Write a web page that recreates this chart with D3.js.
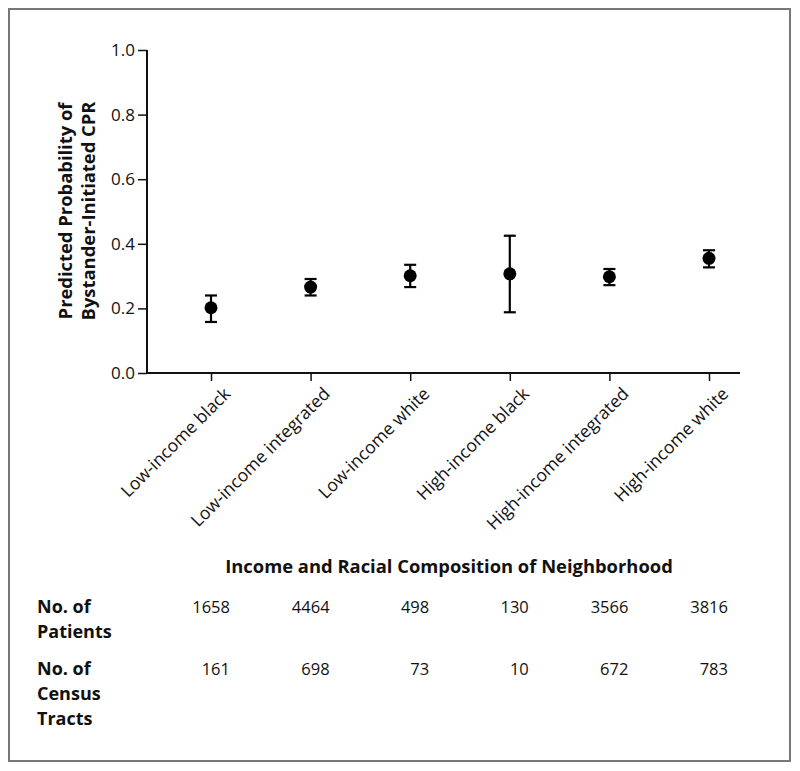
<!DOCTYPE html>
<html><head><meta charset="utf-8">
<script src="https://cdn.jsdelivr.net/npm/d3@7"></script>
<style>body{margin:0;background:#fff}svg{display:block}text{font-family:"Open Sans",Lato,sans-serif;fill:#111}</style>
</head><body><svg id="c" width="800" height="771"></svg>
<script>
const categories = ["Low-income black","Low-income integrated","Low-income white","High-income black","High-income integrated","High-income white"];
const estimates = [0.202, 0.266, 0.301, 0.307, 0.298, 0.355];
const lower = [0.158, 0.240, 0.266, 0.188, 0.272, 0.327];
const upper = [0.240, 0.291, 0.335, 0.425, 0.322, 0.380];
const yTicks = [0, 0.2, 0.4, 0.6, 0.8, 1.0];
const patients = ["1658","4464","498","130","3566","3816"];
const tracts = ["161","698","73","10","672","783"];

const svg = d3.select("#c");
svg.append("rect").attr("x",9).attr("y",9).attr("width",781).attr("height",752)
  .attr("fill","none").attr("stroke","#777").attr("stroke-width",2);

function fit(sel, target){
  const fs = parseFloat(sel.style("font-size"));
  const w = sel.node().getComputedTextLength();
  sel.style("font-size", (fs*target/w).toFixed(2)+"px");
}

const x = d3.scalePoint().domain(categories).range([211, 709]);
const y = d3.scaleLinear().domain([0,1]).range([373, 50]);

const yAxis = d3.axisLeft(y).tickValues(yTicks).tickFormat(d3.format(".1f")).tickSize(9).tickPadding(3);
const gy = svg.append("g").attr("transform","translate(147,0)").call(yAxis);
gy.select(".domain").attr("stroke","#111").attr("stroke-width",2).attr("d","M0,50V373");
gy.selectAll(".tick line").attr("stroke","#111").attr("stroke-width",1.5);
gy.selectAll(".tick text").style("font-size","17px").attr("fill","#111");

const xAxis = d3.axisBottom(x).tickSize(8).tickFormat(d=>d);
const gx = svg.append("g").attr("transform","translate(0,373)").call(xAxis);
gx.select(".domain").attr("stroke","#111").attr("stroke-width",2).attr("d","M146,0H740");
gx.selectAll(".tick line").attr("stroke","#111").attr("stroke-width",1.5);
gx.selectAll(".tick text").style("font-size","17.5px").attr("fill","#111")
  .attr("text-anchor","end").attr("dy",null).attr("y",0)
  .attr("transform","translate(20,22) rotate(-45)");

// error bars
const eb = svg.append("g").attr("stroke","#000").attr("stroke-width",2.2);
categories.forEach((c,i)=>{
  const cx = x(c);
  eb.append("line").attr("x1",cx).attr("x2",cx).attr("y1",y(lower[i])).attr("y2",y(upper[i]));
  eb.append("line").attr("x1",cx-6).attr("x2",cx+6).attr("y1",y(lower[i])).attr("y2",y(lower[i]));
  eb.append("line").attr("x1",cx-6).attr("x2",cx+6).attr("y1",y(upper[i])).attr("y2",y(upper[i]));
});
svg.append("g").selectAll("circle").data(categories).join("circle")
  .attr("cx",d=>x(d)).attr("cy",(d,i)=>y(estimates[i])).attr("r",6.5).attr("fill","#000");

// y label
const yl = svg.append("text").attr("transform","translate(0,211) rotate(-90)")
  .attr("text-anchor","middle").style("font-size","18px").style("font-weight","bold");
yl.append("tspan").attr("x",0).attr("y",72).text("Predicted Probability of");
yl.append("tspan").attr("x",0).attr("y",95).text("Bystander-Initiated CPR");
fit(yl.select("tspan"), 217);
yl.selectAll("tspan").style("font-size", yl.select("tspan").style("font-size"));

const title = svg.append("text").attr("x",449).attr("y",573).attr("text-anchor","middle")
  .style("font-size","18px").style("font-weight","bold").text("Income and Racial Composition of Neighborhood");
fit(title, 448);

// table
function lab(lines, y0){
  lines.forEach((t,k)=>svg.append("text").attr("x",37).attr("y",y0+k*25)
    .style("font-size","18px").style("font-weight","bold").text(t));
}
lab(["No. of","Patients"],613);
lab(["No. of","Census","Tracts"],675);
svg.append("g").selectAll("text").data(patients).join("text")
  .attr("x",(d,i)=>x(categories[i])+19).attr("y",613).attr("text-anchor","end")
  .style("font-size","16.5px").text(d=>d);
svg.append("g").selectAll("text").data(tracts).join("text")
  .attr("x",(d,i)=>x(categories[i])+19).attr("y",675).attr("text-anchor","end")
  .style("font-size","16.5px").text(d=>d);
</script></body></html>
